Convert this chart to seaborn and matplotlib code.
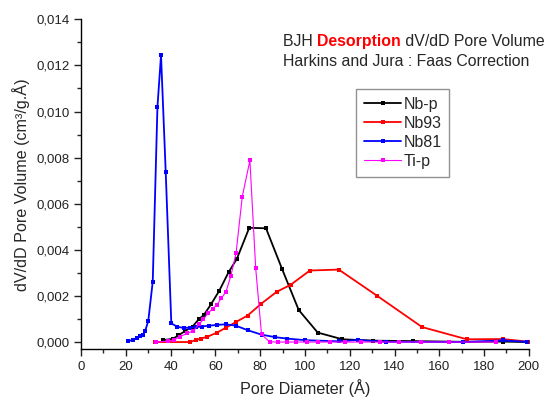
import pandas as pd
import matplotlib
matplotlib.use("Agg")
import matplotlib.pyplot as plt
from matplotlib.ticker import MultipleLocator, FuncFormatter
import seaborn as sns

# Nb-p
nbp_d = [36.4, 41.0, 43.5, 46.5, 49.8, 52.5, 54.8, 58.0, 61.7, 65.9, 69.6, 75.1,
         82.6, 89.8, 97.2, 105.7, 116.7, 130.4, 148.2, 170.8, 188.4, 199.0]
nbp_v = [0.00009, 0.00015, 0.00030, 0.00049, 0.00068, 0.00099, 0.00118, 0.00164,
         0.00223, 0.00304, 0.00362, 0.00496, 0.00494, 0.00317, 0.00140, 0.00042,
         0.00013, 0.00007, 0.00005, 0.00002, 0.00003, 0.00001]

# Nb93
nb93_d = [33.0, 48.6, 51.3, 53.5, 56.4, 60.5, 64.7, 69.2, 74.4, 80.2, 87.4, 93.6,
          102.2, 115.1, 132.3, 152.3, 172.3, 188.4, 199.5]
nb93_v = [0.00001, 0.00001, 0.00010, 0.00016, 0.00024, 0.00041, 0.00063, 0.00088,
          0.00116, 0.00165, 0.00219, 0.00249, 0.00311, 0.00315, 0.00201, 0.00066,
          0.00013, 0.00014, 0.00003]

# Nb81
nb81_d = [21.1, 23.0, 24.8, 26.3, 27.5, 28.6, 30.0, 32.0, 34.1, 35.7, 37.8, 40.3,
          43.0, 45.9, 48.8, 51.3, 53.8, 57.2, 60.5, 64.6, 69.1, 74.5, 80.6, 86.8,
          92.0, 100.2, 115.4, 123.6, 136.2, 170.8, 188.4, 199.0]
nb81_v = [0.00005, 0.00010, 0.00019, 0.00026, 0.00032, 0.00049, 0.00092, 0.00263,
          0.01020, 0.01244, 0.00737, 0.00082, 0.00067, 0.00062, 0.00064, 0.00066,
          0.00068, 0.00072, 0.00075, 0.00078, 0.00072, 0.00052, 0.00033, 0.00022,
          0.00016, 0.00009, 0.00004, 0.00010, 0.00002, 0.00001, 0.00008, 0.00002]

# Ti-p
tip_d = [33.6, 38.7, 41.4, 44.0, 47.5, 50.2, 52.8, 54.6, 56.6, 58.7, 60.6, 62.7,
         64.7, 66.9, 69.2, 72.0, 75.4, 78.0, 80.6, 84.2, 88.0, 91.8, 96.2, 100.7,
         105.9, 111.3, 118.0, 125.2, 133.4, 142.0, 152.0, 164.3, 185.4]
tip_v = [0.00001, 0.00005, 0.00010, 0.00024, 0.00039, 0.00050, 0.00079, 0.00099,
         0.00125, 0.00145, 0.00161, 0.00192, 0.00218, 0.00288, 0.00385, 0.00631,
         0.00788, 0.00320, 0.00034, 0.00002, 0.00001, 0.00001, 0.00001, 0.00001,
         0.00001, 0.00001, 0.00001, 0.00001, 0.00001, 0.00001, 0.00001, 0.00001,
         0.00001]

series = [
    ("Nb-p", nbp_d, nbp_v, "#000000", 1.3),
    ("Nb93", nb93_d, nb93_v, "#ff0000", 1.3),
    ("Nb81", nb81_d, nb81_v, "#0000ff", 1.3),
    ("Ti-p", tip_d, tip_v, "#ff00ff", 0.8),
]

sns.set_style("ticks")
plt.rcParams["font.family"] = ["Liberation Sans", "DejaVu Sans"]

fig = plt.figure(figsize=(5.48, 4.0), dpi=100)
ax = fig.add_axes([0.148, 0.127, 0.817, 0.825])

for name, d, v, color, lw in series:
    df = pd.DataFrame({"D": d, "V": v})
    sns.lineplot(data=df, x="D", y="V", ax=ax, color=color, linewidth=lw,
                 marker="s", markersize=3.5, markeredgewidth=0,
                 label=name, sort=False)

ax.set_xlim(0, 200)
ax.set_ylim(-0.0003, 0.014)
ax.xaxis.set_major_locator(MultipleLocator(20))
ax.xaxis.set_minor_locator(MultipleLocator(10))
ax.yaxis.set_major_locator(MultipleLocator(0.002))
ax.yaxis.set_minor_locator(MultipleLocator(0.001))
ax.yaxis.set_major_formatter(FuncFormatter(lambda y, p: f"{y:.3f}".replace(".", ",")))
ax.tick_params(which="major", direction="out", length=5, width=1, labelsize=9.5, colors="#222222")
ax.tick_params(which="minor", direction="out", length=3, width=1)
ax.spines["top"].set_visible(False)
ax.spines["right"].set_visible(False)
for s in ("left", "bottom"):
    ax.spines[s].set_color("black")
    ax.spines[s].set_linewidth(1)

ax.set_xlabel("Pore Diameter (Å)", fontsize=11.6)
ax.set_ylabel("dV/dD Pore Volume (cm³/g.Å)", fontsize=11.6)

leg = ax.legend(loc="upper left", bbox_to_anchor=(0.65, 0.7775), bbox_transform=fig.transFigure,
                fontsize=11.5, frameon=True, fancybox=False, handlelength=2.3,
                borderpad=0.5, labelspacing=0.25, handletextpad=0.15, borderaxespad=0)
leg.get_frame().set_edgecolor("#777777")
leg.get_frame().set_linewidth(1)

fs = 11.4
t1 = fig.text(0.516, 0.885, "BJH ", fontsize=fs, ha="left", va="baseline")
fig.canvas.draw()
x2 = t1.get_window_extent().x1 / fig.bbox.width
t2 = fig.text(x2, 0.885, "Desorption", fontsize=fs, color="#ff0000", fontweight="bold",
              ha="left", va="baseline")
fig.canvas.draw()
x3 = t2.get_window_extent().x1 / fig.bbox.width
fig.text(x3, 0.885, " dV/dD Pore Volume", fontsize=fs, ha="left", va="baseline")
fig.text(0.516, 0.835, "Harkins and Jura : Faas Correction", fontsize=fs, ha="left", va="baseline")

fig.savefig("out.png", dpi=100)
